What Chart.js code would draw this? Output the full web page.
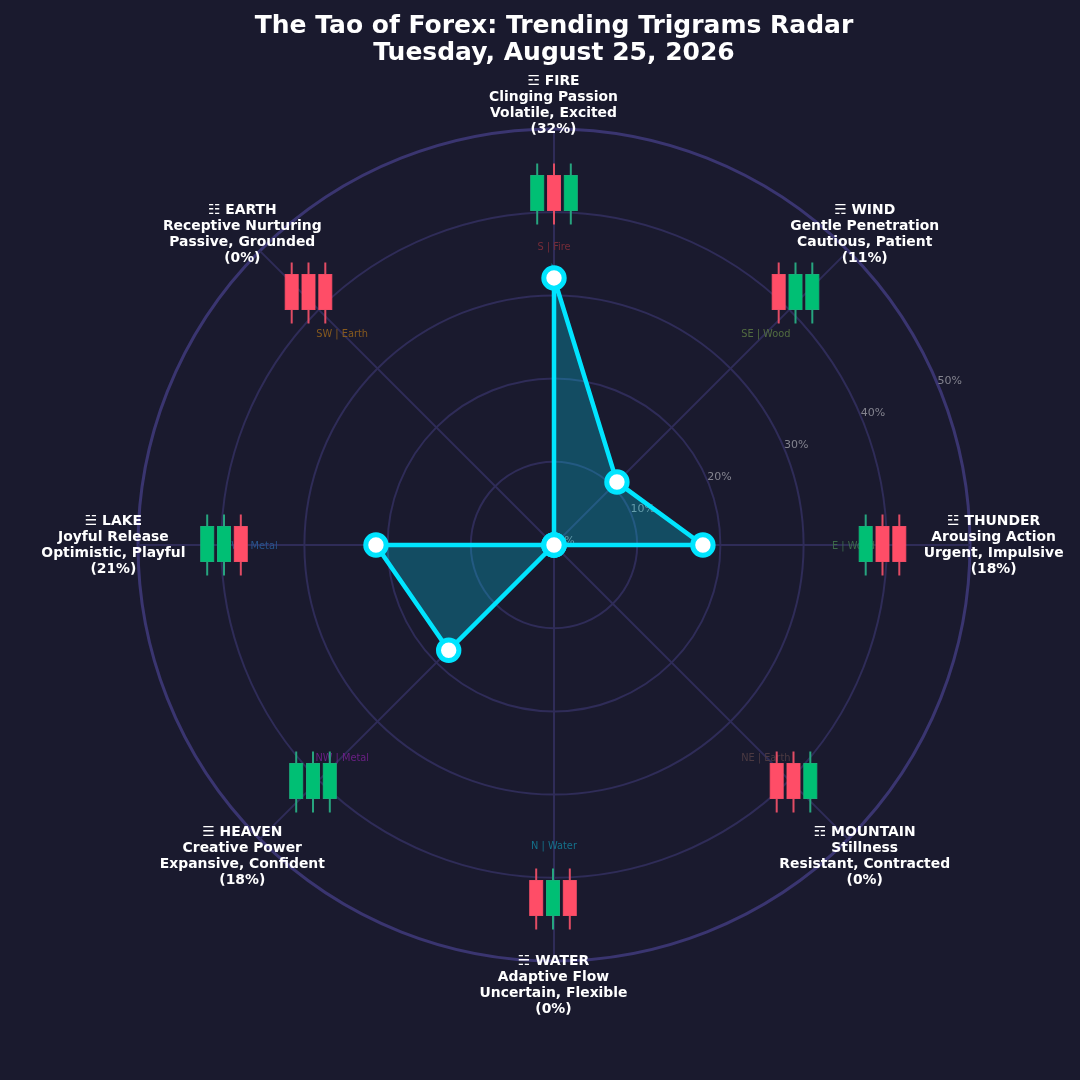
<!DOCTYPE html>
<html>
<head>
<meta charset="utf-8">
<title>Trending Trigrams Radar</title>
<script src="https://cdn.jsdelivr.net/npm/chart.js@4"></script>
<style>
    html, body { margin: 0; padding: 0; background: #1a1a2e; }
    canvas { display: block; }
</style>
</head>
<body>
<canvas id="radar" width="1080" height="1080"></canvas>
<script>
// Data, clockwise from the top
const titleLines = ["The Tao of Forex: Trending Trigrams Radar", "Tuesday, August 25, 2026"];
const trigrams = ["☲ FIRE", "☴ WIND", "☳ THUNDER", "☶ MOUNTAIN", "☵ WATER", "☰ HEAVEN", "☱ LAKE", "☷ EARTH"];
const qualities = ["Clinging Passion", "Gentle Penetration", "Arousing Action", "Stillness", "Adaptive Flow", "Creative Power", "Joyful Release", "Receptive Nurturing"];
const moods = ["Volatile, Excited", "Cautious, Patient", "Urgent, Impulsive", "Resistant, Contracted", "Uncertain, Flexible", "Expansive, Confident", "Optimistic, Playful", "Passive, Grounded"];
const strengths = [32.1, 10.7, 17.9, 0, 0, 17.9, 21.4, 0];
const strengthLabels = ["32%", "11%", "18%", "0%", "0%", "18%", "21%", "0%"];
const elements = ["S | Fire", "SE | Wood", "E | Wood", "NE | Earth", "N | Water", "NW | Metal", "W | Metal", "SW | Earth"];
const elementColors = ["#762c38", "#526c40", "#3c6a4a", "#4c3a42", "#14708a", "#6a2084", "#27548c", "#875a1e"];
const candles = [
    ["up", "down", "up"],
    ["down", "up", "up"],
    ["up", "down", "down"],
    ["down", "down", "up"],
    ["down", "up", "down"],
    ["up", "up", "up"],
    ["up", "up", "down"],
    ["down", "down", "down"],
];
const tickLabels = ["0%", "10%", "20%", "30%", "40%", "50%"];

// Layout only: where the decorations sit, in pixels from the radar centre
const candleOffsets = [[0, -352], [241.5, -253], [328.5, -1], [239.5, 236], [-1, 353], [-241, 236], [-330, -1], [-245.5, -253]];
const candleColors = { up: "#00bf74", down: "#ff4d67" };
const wickColors = { up: "#27a57f", down: "#e24c64" };
const FONT = '"DejaVu Sans", sans-serif';

const decorations = {
    id: "decorations",
    beforeDatasetsDraw(chart) {
        const { ctx } = chart;
        const scale = chart.scales.r;
        ctx.save();
        ctx.textAlign = "center";
        ctx.textBaseline = "middle";

        // radial tick labels run along a spoke 22.5 degrees above horizontal
        ctx.font = "11px " + FONT;
        ctx.fillStyle = "#84848f";
        const a = 22.7 * Math.PI / 180;
        scale.ticks.forEach((tick) => {
            const r = scale.getDistanceFromCenterForValue(tick.value) + 12;
            ctx.fillText(tick.label, scale.xCenter + r * Math.cos(a) + 1, scale.yCenter - r * Math.sin(a) + 1);
        });

        ctx.font = "9.8px " + FONT;
        elements.forEach((name, i) => {
            const p = scale.getPointPosition(i, scale.getDistanceFromCenterForValue(36));
            ctx.fillStyle = elementColors[i];
            ctx.fillText(name, p.x, p.y + 1.5);
        });

        candles.forEach((group, i) => {
            const cx = scale.xCenter + candleOffsets[i][0];
            const cy = scale.yCenter + candleOffsets[i][1];
            group.forEach((dir, k) => {
                const x = cx + (k - 1) * 16.8;
                ctx.strokeStyle = wickColors[dir];
                ctx.lineWidth = 2;
                ctx.beginPath();
                ctx.moveTo(x, cy - 29.5);
                ctx.lineTo(x, cy + 31.5);
                ctx.stroke();
                ctx.fillStyle = candleColors[dir];
                ctx.lineWidth = 1;
                ctx.strokeRect(x - 6.5, cy - 17.5, 13, 35);
                ctx.fillRect(x - 6.5, cy - 17.5, 13, 35);
            });
        });
        ctx.restore();
    },
    afterDraw(chart) {
        const { ctx } = chart;
        const scale = chart.scales.r;
        ctx.save();
        ctx.textAlign = "center";
        ctx.textBaseline = "middle";
        ctx.fillStyle = "#ffffff";
        ctx.font = "bold 13.9px " + FONT;
        trigrams.forEach((name, i) => {
            const p = scale.getPointPosition(i, scale.getDistanceFromCenterForValue(52.9));
            const lines = [name, qualities[i], moods[i], "(" + strengthLabels[i] + ")"];
            lines.forEach((line, k) => ctx.fillText(line, p.x - 0.5, p.y + (k - 1.5) * 16 + 0.5));
        });
        ctx.restore();
    },
};

new Chart(document.getElementById("radar"), {
    type: "radar",
    data: {
        labels: trigrams,
        datasets: [{
            data: strengths,
            borderColor: "#00e5ff",
            borderWidth: 4.5,
            backgroundColor: "rgba(0, 229, 255, 0.25)",
            fill: true,
            tension: 0,
            pointRadius: 10.2,
            pointBorderWidth: 5,
            pointBackgroundColor: "#ffffff",
            pointBorderColor: "#00e5ff",
        }],
    },
    options: {
        responsive: false,
        animation: false,
        layout: { padding: { left: 138, right: 110, top: 13, bottom: 119 } },
        plugins: {
            legend: { display: false },
            tooltip: { enabled: false },
            title: {
                display: true,
                fullSize: false,
                text: titleLines,
                color: "#ffffff",
                font: { family: FONT, size: 25, weight: "bold", lineHeight: 1.08 },
                padding: { top: 0, bottom: 62 },
            },
        },
        scales: {
            r: {
                min: 0,
                max: 50,
                ticks: { display: false, stepSize: 10, callback: (v, i) => tickLabels[i] },
                pointLabels: { display: false },
                grid: {
                    circular: true,
                    color: (c) => (c.tick && c.tick.value === 50 ? "#3a3570" : "#2f2c58"),
                    lineWidth: (c) => (c.tick && c.tick.value === 50 ? 3 : 2),
                },
                angleLines: { color: "#2f2c58", lineWidth: 2 },
            },
        },
    },
    plugins: [decorations],
});
</script>
</body>
</html>
